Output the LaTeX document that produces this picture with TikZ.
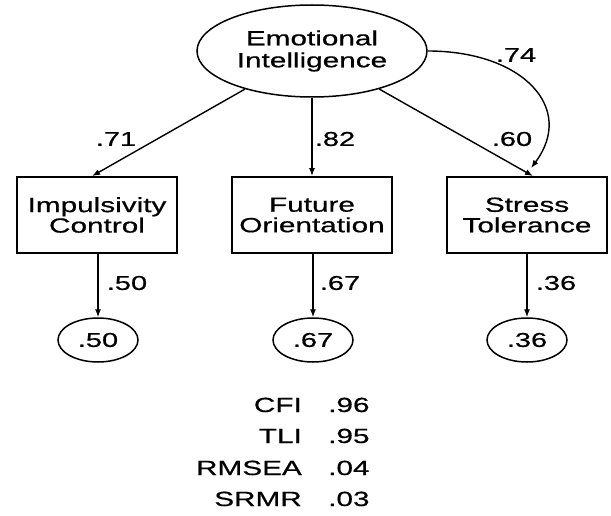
\documentclass[tikz,border=0pt]{standalone}
\usepackage{fontspec}
\setmainfont[FakeStretch=1.45,FakeBold=0.6]{Liberation Sans}
\usetikzlibrary{shapes.geometric,arrows.meta}
\begin{document}
\begin{tikzpicture}[x=1pt,y=-1pt,
 lat/.style={draw,ellipse,line width=1.5pt,minimum width=230pt,minimum height=92pt,inner sep=0pt,align=center,font=\fontsize{20.5}{22}\selectfont},
 obs/.style={draw,rectangle,line width=1.8pt,minimum width=160pt,minimum height=76pt,inner sep=0pt,align=center,font=\fontsize{20.5}{20.5}\selectfont},
 res/.style={draw,ellipse,line width=1.5pt,minimum width=80pt,minimum height=44pt,inner sep=0pt,font=\fontsize{20}{20}\selectfont},
 arr/.style={line width=1.4pt,-{Latex[length=8pt,width=6pt]}},
 lbl/.style={font=\fontsize{20}{20}\selectfont,inner sep=0pt},
 fitlbl/.style={font=\fontsize{20.5}{20.5}\selectfont,inner sep=0pt}
]
\useasboundingbox (0,0) rectangle (611,516);
\fill[white] (0,0) rectangle (611,516);

\node[lat] (EI) at (312,51) {Emotional\\Intelligence};
\node[obs] (B1) at (97,215) {Impulsivity\\Control};
\node[obs] (B2) at (312,215) {Future\\Orientation};
\node[obs] (B3) at (527,215) {Stress\\Tolerance};
\node[res] (R1) at (98,340) {.50};
\node[res] (R2) at (313,340) {.67};
\node[res] (R3) at (527,340) {.36};

\coordinate (T1) at ([xshift=-5pt]B1.north);
\coordinate (T3) at ([xshift=6pt]B3.north);
\coordinate (T3c) at ([shift={(4,-8)}]B3.north);

\draw[arr] (EI) -- (T1);
\draw[arr] (EI) -- (B2);
\draw[arr] (EI) -- (T3);
\draw[arr] (EI.east) .. controls +(95,0) and +(45,-60) .. (T3c);

\draw[arr] (B1.south -| R1) -- (R1);
\draw[arr] (B2.south -| R2) -- (R2);
\draw[arr] (B3.south -| R3) -- (R3);

\node[lbl] (l71) at (116,139) {.71};
\node[lbl] (l82) at (335,139) {.82};
\node[lbl] (l60) at (512,139) {.60};
\node[lbl] (l74) at (516,55) {.74};
\node[lbl] (l50) at (127,283) {.50};
\node[lbl] (l67) at (340,283) {.67};
\node[lbl] (l36) at (556,283) {.36};

\node[fitlbl,anchor=base east] (f1) at (302,412) {CFI};
\node[fitlbl,anchor=base west] (v1) at (328,412) {.96};
\node[fitlbl,anchor=base east] (f2) at (302,443) {TLI};
\node[fitlbl,anchor=base west] (v2) at (328,443) {.95};
\node[fitlbl,anchor=base east] (f3) at (302,475) {RMSEA};
\node[fitlbl,anchor=base west] (v3) at (328,475) {.04};
\node[fitlbl,anchor=base east] (f4) at (302,506) {SRMR};
\node[fitlbl,anchor=base west] (v4) at (328,506) {.03};
\end{tikzpicture}
\end{document}
